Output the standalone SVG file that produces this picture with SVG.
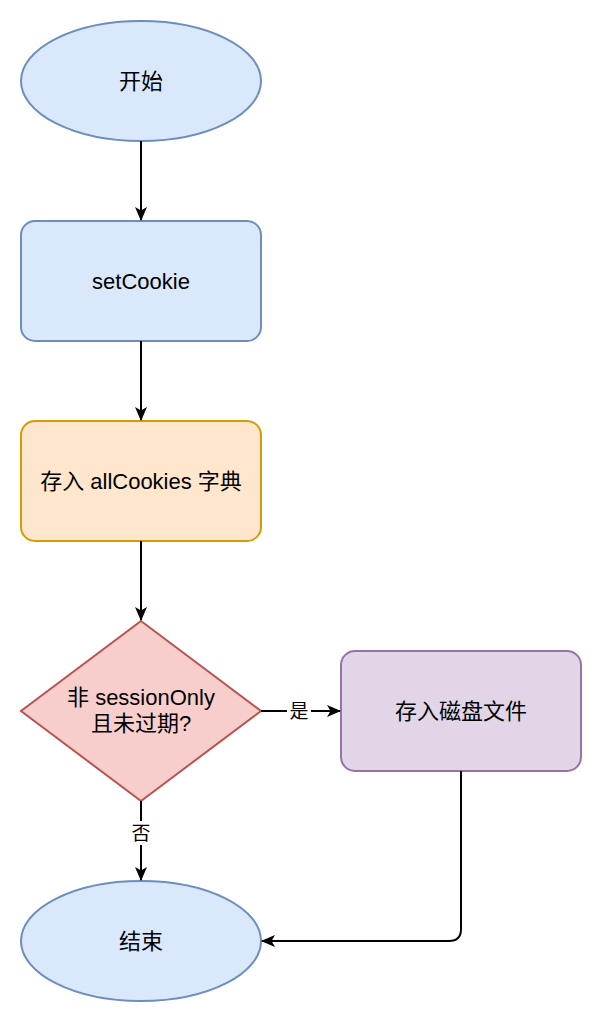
<svg xmlns="http://www.w3.org/2000/svg" width="602" height="1022" viewBox="0 0 602 1022">
<defs>
<marker id="arr" markerWidth="14" markerHeight="14" viewBox="0 0 14 14" refX="13" refY="7" orient="auto" markerUnits="userSpaceOnUse">
<path d="M0,1 L14,7 L0,13 L3.5,7 Z" fill="#000"/>
</marker>
<style>
text{font-family:"Liberation Sans","Noto Sans CJK SC",sans-serif;font-size:22px;fill:#000;text-anchor:middle;dominant-baseline:central}
.lbl{font-size:19px}
.blue{fill:#dae8fc;stroke:#6c8ebf;stroke-width:2}
.edge{fill:none;stroke:#000;stroke-width:2}
</style>
</defs>
<rect width="602" height="1022" fill="#fff"/>
<g id="start"><ellipse class="blue" cx="141" cy="81" rx="120" ry="60"/><text x="141" y="81">开始</text></g>
<g id="setCookie"><rect class="blue" x="21" y="221" width="240" height="120" rx="14"/><text x="141" y="281">setCookie</text></g>
<g id="store"><rect x="21" y="421" width="240" height="120" rx="14" fill="#ffe6cc" stroke="#d79b00" stroke-width="2"/><text x="141" y="481">存入 allCookies 字典</text></g>
<g id="decision"><polygon points="141,621 261,711 141,801 21,711" fill="#f8cecc" stroke="#b85450" stroke-width="2"/><text x="141" y="697">非 sessionOnly</text><text x="141" y="723">且未过期?</text></g>
<g id="disk"><rect x="341" y="651" width="240" height="120" rx="14" fill="#e1d5e7" stroke="#9673a6" stroke-width="2"/><text x="461" y="711">存入磁盘文件</text></g>
<g id="end"><ellipse class="blue" cx="141" cy="941" rx="120" ry="60"/><text x="141" y="941">结束</text></g>
<g id="connectors">
<line class="edge" x1="141" y1="141" x2="141" y2="220" marker-end="url(#arr)"/>
<line class="edge" x1="141" y1="341" x2="141" y2="420" marker-end="url(#arr)"/>
<line class="edge" x1="141" y1="541" x2="141" y2="620" marker-end="url(#arr)"/>
<line class="edge" x1="261" y1="711" x2="340" y2="711" marker-end="url(#arr)"/>
<line class="edge" x1="141" y1="801" x2="141" y2="880" marker-end="url(#arr)"/>
<path class="edge" d="M461,771 L461,929 Q461,941 449,941 L262,941" marker-end="url(#arr)"/>
<rect x="287" y="700" width="24" height="22" fill="#fff"/>
<text class="lbl" x="299" y="711">是</text>
<rect x="129" y="821" width="24" height="24" fill="#fff"/>
<text class="lbl" x="141" y="833">否</text>
</g>
</svg>
